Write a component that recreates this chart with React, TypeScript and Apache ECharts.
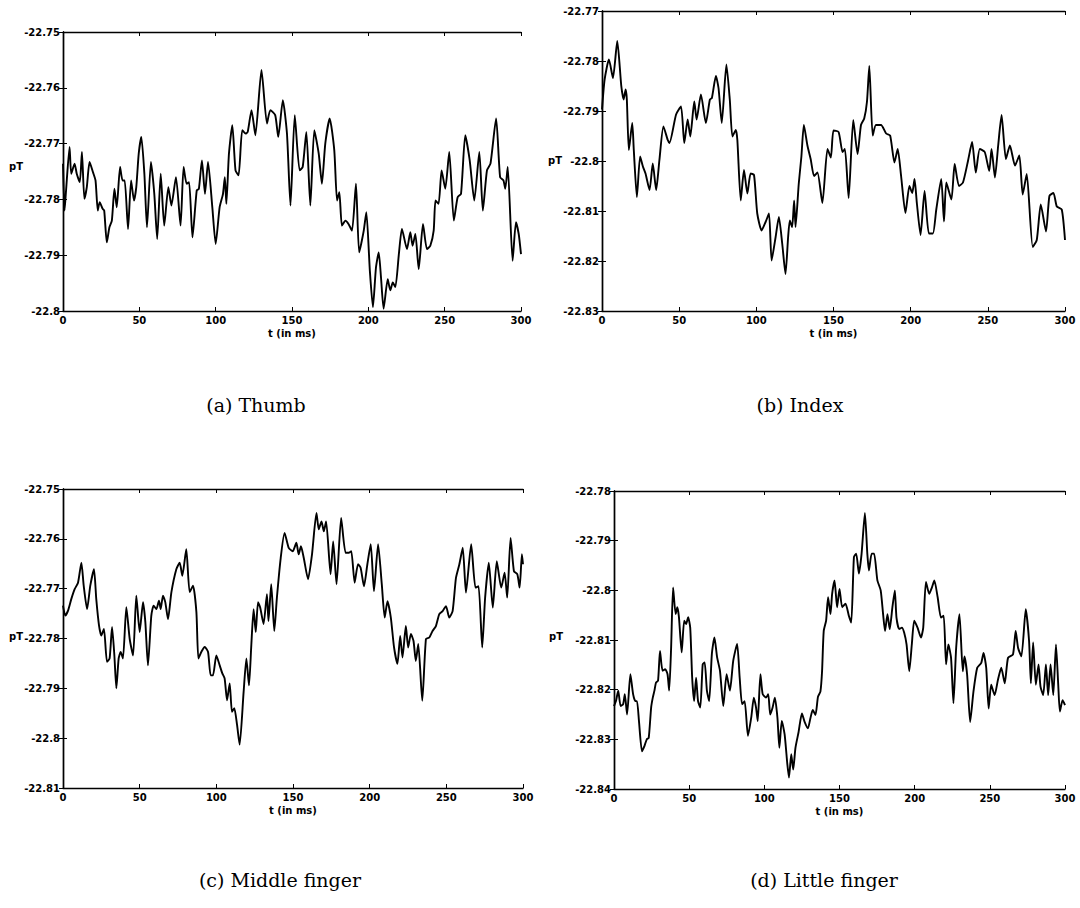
import { useEffect, useRef } from "react";
import * as echarts from "echarts";

// Field traces [t in ms, field in pT] for each finger.
const THUMB: [number, number][] = [
  [0, -22.7736], [1, -22.782], [2, -22.7784], [4.3, -22.7706], [5.4, -22.7754], [7.6, -22.7736], [9, -22.7754],
  [11, -22.7769], [12.4, -22.7715], [14, -22.7799], [15.6, -22.7778], [17.4, -22.7733], [19.6, -22.7751],
  [21.3, -22.7766], [22.8, -22.782], [24, -22.7805], [26, -22.7817], [27, -22.782], [28.7, -22.7877],
  [30.4, -22.785], [32, -22.7838], [33.7, -22.7781], [35.2, -22.7814], [37.4, -22.7742], [39, -22.7766],
  [40.4, -22.7766], [42.6, -22.7853], [44.6, -22.7766], [46.5, -22.7802], [48, -22.7778], [49.6, -22.7718],
  [51.3, -22.7688], [53.3, -22.7754], [55, -22.785], [57.6, -22.7733], [59.8, -22.779], [61.7, -22.7871],
  [64, -22.7754], [66.3, -22.7847], [69, -22.7778], [71, -22.7811], [74, -22.776], [77, -22.7847],
  [79, -22.7742], [81, -22.7772], [82.6, -22.7769], [84.8, -22.7868], [87.6, -22.7784], [89, -22.7781],
  [91, -22.773], [93, -22.779], [95, -22.7733], [97.8, -22.7814], [100, -22.788], [102.6, -22.7814],
  [104.8, -22.779], [106, -22.776], [107, -22.7808], [108.7, -22.7718], [110.9, -22.7667], [113, -22.7748],
  [115, -22.7757], [117.4, -22.7676], [119.6, -22.7682], [121, -22.7679], [123.5, -22.764], [126, -22.7685],
  [130, -22.7568], [133.6, -22.7664], [135.8, -22.764], [139, -22.7649], [141, -22.7688], [144, -22.7622],
  [146.7, -22.7682], [149, -22.7811], [151.8, -22.7649], [155, -22.7748], [157, -22.7742], [159.4, -22.7679],
  [162, -22.7811], [164.6, -22.7676], [167.5, -22.7718], [169.6, -22.7772], [171.8, -22.77], [174.7, -22.7655],
  [177.7, -22.7712], [179.5, -22.7802], [181, -22.7787], [182.7, -22.7847], [185, -22.7838], [187, -22.7844],
  [189.3, -22.7856], [191.9, -22.7772], [194, -22.7895], [197, -22.7856], [198.7, -22.7823], [201, -22.7928],
  [203, -22.7993], [205, -22.7922], [206.8, -22.7895], [208.3, -22.794], [210, -22.7996], [212.7, -22.7943],
  [214.4, -22.7963], [216, -22.7949], [217.7, -22.7957], [220, -22.7898], [222, -22.7853], [225.3, -22.7889],
  [227.5, -22.7859], [229, -22.7883], [230.8, -22.7862], [233, -22.7925], [235.8, -22.7844], [238.4, -22.7889],
  [240.6, -22.7883], [242.8, -22.7856], [244, -22.7802], [246, -22.7808], [248, -22.7748], [250.4, -22.7781],
  [253, -22.7715], [256, -22.7838], [258.5, -22.7796], [260.7, -22.779], [263.5, -22.7685], [266.4, -22.773],
  [269.4, -22.7802], [272.7, -22.7715], [275, -22.782], [277.7, -22.7748], [280, -22.7736], [283.7, -22.7655],
  [286.3, -22.776], [288.5, -22.7766], [289.7, -22.7781], [291.3, -22.7742], [294.5, -22.791], [296.7, -22.7841],
  [298.5, -22.7862], [300, -22.7898],
];

const INDEX: [number, number][] = [
  [0, -22.7897], [1.7, -22.7837], [4.5, -22.7797], [7.1, -22.7834], [9.9, -22.776], [12.5, -22.785], [14, -22.7877],
  [15.3, -22.7857], [16.1, -22.7877], [17.4, -22.7978], [19.6, -22.7924], [20.6, -22.7978], [22.6, -22.8072],
  [24.7, -22.7991], [26.5, -22.8011], [28.2, -22.8025], [30.8, -22.8058], [32.9, -22.8005], [35.1, -22.8058],
  [37.2, -22.7998], [39.8, -22.7931], [42.6, -22.7958], [43.7, -22.7964], [48, -22.7907], [51.2, -22.7891],
  [53.3, -22.7964], [55.5, -22.7917], [57.2, -22.7951], [59.8, -22.7881], [61.3, -22.7917], [64.1, -22.7867],
  [67.3, -22.7924], [69.9, -22.7877], [71.2, -22.7874], [73.8, -22.783], [75.5, -22.7854], [77.6, -22.7924],
  [80.6, -22.7807], [82.8, -22.7877], [84.5, -22.7951], [86.7, -22.7938], [87.7, -22.7958], [89.9, -22.8079],
  [92, -22.8018], [94.2, -22.8065], [96.3, -22.8025], [98.5, -22.8028], [100.6, -22.8105], [103.4, -22.8139],
  [106, -22.8122], [108.2, -22.8105], [109.9, -22.8199], [112.5, -22.8152], [114.6, -22.8112], [116.8, -22.8166],
  [118.9, -22.8226], [120.6, -22.8152], [121.7, -22.8119], [123.2, -22.8132], [124.5, -22.8079], [125.4, -22.8132],
  [127.5, -22.8045], [129.2, -22.7991], [130.8, -22.7928], [133.1, -22.7969], [135.2, -22.7996], [137.4, -22.803],
  [139.6, -22.8023], [142.8, -22.8084], [146.1, -22.7976], [148.3, -22.7993], [150, -22.7939], [153.3, -22.7942],
  [155.9, -22.7982], [157.4, -22.7976], [159.8, -22.8074], [162.8, -22.7918], [165.6, -22.7986], [167.8, -22.7928],
  [169.9, -22.7915], [171.7, -22.7881], [173.2, -22.781], [175.4, -22.7949], [177.5, -22.7928], [180.8, -22.7928],
  [184.1, -22.7945], [186.7, -22.7949], [189.5, -22.8003], [191.6, -22.7976], [193.8, -22.803], [196.6, -22.8104],
  [199.2, -22.805], [201, -22.8064], [202.5, -22.8036], [204, -22.8084], [206.4, -22.8148], [209, -22.806],
  [211.8, -22.8145], [214.4, -22.8145], [216.6, -22.8097], [219.8, -22.8036], [221.6, -22.8121], [223.1, -22.8043],
  [226.4, -22.8077], [228.5, -22.8006], [231.3, -22.805], [233.9, -22.8043], [237.2, -22.7999], [239.8, -22.7962],
  [242.2, -22.8023], [244.8, -22.7976], [248, -22.7982], [250.9, -22.802], [252.4, -22.7976], [254.6, -22.8033],
  [256.7, -22.7969], [258.9, -22.7908], [261.7, -22.7996], [264.3, -22.7969], [267.6, -22.8009], [270.4, -22.7989],
  [272.6, -22.8067], [275.2, -22.8026], [279.1, -22.8172], [281.7, -22.8158], [284.3, -22.8087], [287.7, -22.8141],
  [289.9, -22.807], [292.5, -22.8064], [294.7, -22.8091], [297.9, -22.8097], [300, -22.8158],
];

const MIDDLE: [number, number][] = [
  [0, -22.7734], [1.5, -22.7754], [3.3, -22.7744], [5.4, -22.7721], [7.6, -22.7701], [9.8, -22.7688], [12, -22.7648],
  [13.5, -22.7694], [15.7, -22.7741], [17.8, -22.7694], [20.2, -22.7661], [21.7, -22.7721], [23.5, -22.7774],
  [25, -22.7794], [26.7, -22.7781], [28.7, -22.7847], [30.4, -22.784], [32, -22.7777], [33.5, -22.7834],
  [34.8, -22.79], [36.3, -22.784], [37.6, -22.7827], [39.1, -22.784], [41.3, -22.7737], [43.5, -22.7801],
  [45.7, -22.7834], [47.8, -22.7714], [50, -22.7787], [52.2, -22.7727], [53.7, -22.7767], [55.4, -22.7854],
  [57.6, -22.7754], [59.1, -22.7734], [60.9, -22.7741], [62.6, -22.7724], [63.7, -22.7741], [65.2, -22.7714],
  [66.7, -22.7727], [68.5, -22.7761], [70.7, -22.7707], [73.9, -22.7661], [76.1, -22.7648], [77.8, -22.7674],
  [80.4, -22.7621], [82.6, -22.7707], [84.8, -22.7694], [87, -22.7747], [88.3, -22.784], [90.2, -22.7827],
  [92.4, -22.7817], [94.6, -22.7827], [96.3, -22.7874], [97.8, -22.7874], [100, -22.7834], [102.2, -22.7854],
  [103.9, -22.787], [105.4, -22.788], [107, -22.7924], [108.7, -22.789], [110.2, -22.7947], [111.7, -22.794],
  [113.5, -22.7973], [115.2, -22.8013], [117.8, -22.7907], [119.6, -22.784], [121.3, -22.7894], [122.8, -22.7814],
  [124.3, -22.7741], [125.7, -22.7787], [127.2, -22.7727], [128.6, -22.7738], [130.8, -22.7771], [133, -22.7711],
  [134, -22.7765], [135.8, -22.7691], [137.8, -22.7785], [139.5, -22.7718], [142, -22.7638], [144.5, -22.7588],
  [147.2, -22.7618], [149.8, -22.7625], [152.2, -22.7608], [153.7, -22.7631], [155.2, -22.7615], [157, -22.7638],
  [159.8, -22.7681], [162.4, -22.7631], [165.3, -22.7548], [166.8, -22.7581], [168.6, -22.7565], [170.1, -22.7585],
  [171.6, -22.7565], [174.5, -22.7671], [176.2, -22.7605], [178.4, -22.7691], [181.4, -22.7558], [184.3, -22.7628],
  [186.5, -22.7628], [188, -22.7625], [190.2, -22.7688], [192.4, -22.7651], [194.1, -22.7658], [196.3, -22.7695],
  [198.5, -22.7651], [200.7, -22.7611], [202.8, -22.7705], [205.5, -22.7611], [207.9, -22.7691], [209.8, -22.7758],
  [211.6, -22.7725], [213.8, -22.7758], [215.9, -22.7818], [218.1, -22.7851], [219.9, -22.7795], [221.4, -22.7838],
  [223.6, -22.7775], [225.1, -22.7818], [226.9, -22.7791], [228.6, -22.7805], [230.1, -22.7845], [231.7, -22.7811],
  [234.3, -22.7925], [236.7, -22.7801], [238.9, -22.7798], [241, -22.7785], [243.2, -22.7775], [245.4, -22.7751],
  [247.6, -22.7745], [249.8, -22.7735], [251.9, -22.7758], [254.1, -22.7745], [256.3, -22.7678], [258.5, -22.7651],
  [260.7, -22.7618], [262.8, -22.7708], [266.2, -22.7611], [269, -22.7698], [271, -22.7695], [273.4, -22.7818],
  [275.3, -22.7718], [277.7, -22.7648], [280.3, -22.7738], [282.9, -22.7645], [285.8, -22.7698], [288, -22.7668],
  [289.7, -22.7718], [291.9, -22.7598], [294.1, -22.7665], [296.3, -22.7671], [297.8, -22.7698], [299.3, -22.7631],
  [300, -22.7651],
];

const LITTLE: [number, number][] = [
  [0, -22.8233], [1.3, -22.8223], [2.8, -22.8202], [4.4, -22.8233], [6.1, -22.8229], [7.2, -22.8209], [8.7, -22.825],
  [10.9, -22.8169], [12.7, -22.8209], [14.2, -22.8223], [15.3, -22.8223], [16.6, -22.8263], [18.6, -22.8324],
  [20.3, -22.8313], [21.8, -22.83], [23.1, -22.8297], [24.7, -22.8236], [25.8, -22.8216], [26.9, -22.8202],
  [27.9, -22.8186], [29.3, -22.8182], [30.6, -22.8122], [32.3, -22.8162], [34.1, -22.8159], [35.6, -22.8169],
  [36.7, -22.8202], [38, -22.8115], [39.3, -22.7994], [41, -22.8048], [42.1, -22.8034], [43.2, -22.8054],
  [45, -22.8125], [46.7, -22.8061], [48, -22.8068], [49.3, -22.8054], [50.7, -22.8075], [52, -22.8176],
  [53.3, -22.8223], [54.6, -22.8176], [55.9, -22.8223], [57.4, -22.8236], [59, -22.8149], [60.3, -22.8145],
  [61.8, -22.8202], [63.3, -22.8223], [65.1, -22.8128], [66.8, -22.8095], [68.6, -22.8135], [70.5, -22.8162],
  [72.7, -22.8233], [74.9, -22.8169], [77.1, -22.8202], [79.3, -22.8142], [81.9, -22.8108], [83.6, -22.8176],
  [85.2, -22.8229], [86.9, -22.8223], [89.1, -22.8293], [91.3, -22.8256], [93, -22.8216], [94.5, -22.8236],
  [95.6, -22.8263], [97.4, -22.8169], [98.9, -22.8209], [101.1, -22.8216], [102.6, -22.8209], [103.9, -22.825],
  [105.5, -22.8236], [107, -22.8216], [108.7, -22.8256], [110, -22.8317], [111.6, -22.8263], [113.5, -22.829],
  [115.3, -22.835], [116.4, -22.8377], [117.9, -22.833], [119.2, -22.8361], [120.7, -22.8317], [122.8, -22.8285],
  [125, -22.8248], [126.8, -22.8265], [129, -22.8278], [130.6, -22.8258], [132.2, -22.8241], [134, -22.8251],
  [135.7, -22.8214], [137.3, -22.8204], [138.4, -22.8163], [139.5, -22.8082], [141.1, -22.8061], [142.4, -22.8014],
  [144, -22.8048], [145.1, -22.8007], [146.7, -22.798], [148.4, -22.8034], [150, -22.7997], [151.8, -22.8034],
  [154, -22.8027], [156.2, -22.8051], [157.8, -22.8065], [159.6, -22.7933], [161.1, -22.7926], [162.9, -22.7966],
  [164.7, -22.7926], [166.9, -22.7844], [168.5, -22.7926], [169.6, -22.796], [171.4, -22.7926], [173, -22.7926],
  [175.2, -22.798], [177.4, -22.8], [179, -22.8048], [180.3, -22.8082], [181.9, -22.8048], [183.4, -22.8078],
  [185.2, -22.8034], [186.8, -22.8], [187.9, -22.8055], [189.7, -22.8078], [191.5, -22.8075], [193, -22.8085],
  [194.6, -22.8109], [196.4, -22.8163], [198.1, -22.8109], [199.7, -22.8061], [201.9, -22.8075], [204.2, -22.8095],
  [205.7, -22.8075], [207.5, -22.7983], [209.7, -22.8007], [211.5, -22.7994], [213.1, -22.798], [215.3, -22.8014],
  [217.5, -22.8055], [219.3, -22.8051], [220.9, -22.8149], [222.4, -22.8109], [224.2, -22.8136], [225.8, -22.8227],
  [227.6, -22.8116], [229.8, -22.8048], [232, -22.8163], [233.1, -22.8133], [234.9, -22.817], [236.9, -22.8265],
  [239.1, -22.8204], [241.6, -22.8156], [244.3, -22.8146], [245.8, -22.8126], [247.6, -22.8156], [249.2, -22.8238],
  [250.9, -22.819], [253.2, -22.8211], [255.4, -22.818], [257.6, -22.8156], [259.9, -22.8187], [262.1, -22.8136],
  [265.4, -22.8129], [267.2, -22.8082], [268.8, -22.8116], [271, -22.8133], [273.9, -22.8038], [276.1, -22.8102],
  [277.3, -22.8187], [278.8, -22.8105], [280.6, -22.819], [282.4, -22.8149], [283.7, -22.8194], [285.5, -22.8211],
  [287.3, -22.8149], [288.8, -22.8211], [290.4, -22.8149], [292.2, -22.8211], [294, -22.8109], [295.5, -22.819],
  [296.6, -22.8244], [298.4, -22.8221], [300, -22.8231],
];

const TRACES = [THUMB, INDEX, MIDDLE, LITTLE];
const Y_MIN = [-22.8, -22.83, -22.81, -22.84];
const Y_MAX = [-22.75, -22.77, -22.75, -22.78];
const Y_STEP = 0.01;
const T_MIN = 0;
const T_MAX = 300;
const T_STEP = 50;
const CAPTIONS = ["(a) Thumb", "(b) Index", "(c) Middle finger", "(d) Little finger"];
const UNIT_LABEL = "pT";
const TIME_LABEL = "t (in ms)";

// Placement of each sub-figure on the page.
const LAYOUT = [
  { grid: { left: 63, top: 32, width: 458, height: 279 }, unit: [16, 166], caption: [256, 405] },
  { grid: { left: 602, top: 11, width: 463, height: 300 }, unit: [555, 160], caption: [800, 405] },
  { grid: { left: 63, top: 489, width: 460, height: 299 }, unit: [16, 636], caption: [280, 880] },
  { grid: { left: 614, top: 491, width: 451, height: 298 }, unit: [556, 636], caption: [824, 880] },
];

const TICK_FONT = { fontFamily: "DejaVu Sans", fontWeight: "bold" as const, fontSize: 10, color: "#000" };
const fmt = (v: number) => String(Number(v.toFixed(2)));

const frameLine = { show: true, lineStyle: { color: "#000", width: 1.4 } };
const innerTick = { show: true, inside: true, length: 4, lineStyle: { color: "#000", width: 1 } };

function buildOption() {
  const xAxis: any[] = [];
  const yAxis: any[] = [];
  const series: any[] = [];
  const graphic: any[] = [];
  TRACES.forEach((trace, i) => {
    const base = { gridIndex: i, min: T_MIN, max: T_MAX, interval: T_STEP, splitLine: { show: false } };
    xAxis.push({
      ...base,
      type: "value",
      position: "bottom",
      axisLine: frameLine,
      axisTick: innerTick,
      axisLabel: { ...TICK_FONT, margin: 4, formatter: fmt },
      name: TIME_LABEL,
      nameLocation: "middle",
      nameGap: 17,
      nameTextStyle: { ...TICK_FONT },
    });
    xAxis.push({
      ...base,
      type: "value",
      position: "top",
      axisLine: frameLine,
      axisTick: innerTick,
      axisLabel: { show: false },
    });
    const ybase = { gridIndex: i, min: Y_MIN[i], max: Y_MAX[i], interval: Y_STEP, splitLine: { show: false } };
    yAxis.push({
      ...ybase,
      type: "value",
      position: "left",
      axisLine: frameLine,
      axisTick: innerTick,
      axisLabel: { ...TICK_FONT, margin: 3, formatter: fmt },
    });
    yAxis.push({
      ...ybase,
      type: "value",
      position: "right",
      axisLine: frameLine,
      axisTick: innerTick,
      axisLabel: { show: false },
    });
    series.push({
      type: "line",
      xAxisIndex: i * 2,
      yAxisIndex: i * 2,
      data: trace,
      showSymbol: false,
      smooth: 0.2,
      lineStyle: { color: "#000", width: 1.9, join: "round" },
      silent: true,
    });
    const lay = LAYOUT[i];
    graphic.push({
      type: "text",
      x: lay.unit[0],
      y: lay.unit[1],
      style: {
        text: UNIT_LABEL,
        fontFamily: "DejaVu Sans",
        fontWeight: "bold",
        fontSize: 10,
        fill: "#000",
        align: "center",
        verticalAlign: "middle",
      },
    });
    graphic.push({
      type: "text",
      x: lay.caption[0],
      y: lay.caption[1],
      style: {
        text: CAPTIONS[i],
        fontFamily: "DejaVu Serif",
        fontSize: 19,
        fill: "#000",
        align: "center",
        verticalAlign: "middle",
      },
    });
  });
  return {
    animation: false,
    backgroundColor: "#fff",
    grid: LAYOUT.map((l) => ({ ...l.grid, containLabel: false })),
    xAxis,
    yAxis,
    series,
    graphic,
  };
}

export default function App() {
  const ref = useRef<HTMLDivElement>(null);
  useEffect(() => {
    if (!ref.current) return;
    const chart = echarts.init(ref.current, undefined, { renderer: "svg" });
    chart.setOption(buildOption() as any);
    return () => chart.dispose();
  }, []);
  return (
    <div
      ref={ref}
      style={{ position: "absolute", left: 0, top: 0, width: 1080, height: 908, background: "#fff" }}
    />
  );
}
